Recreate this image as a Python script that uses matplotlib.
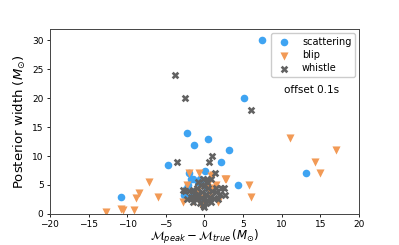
import numpy as np
import matplotlib.pyplot as plt

# scattering glitches
scat_dm = [7.5, 5.1, 0.5, 3.2, 2.2, 0.05, 13.1, 4.3, -10.8, -4.75, -2.2, -1.3,
           -2.0, -1.5, -0.6, -2.1, -2.7, -1.75, -0.4, -2.4, -1.2, -0.9, -1.8, -0.5, 0.3]
scat_w = [30, 20, 13, 11, 8.9, 7.4, 7.0, 5.0, 3.0, 8.5, 14, 12,
          7.0, 6.0, 6.0, 5.0, 3.3, 6.0, 5.9, 4.3, 4.0, 5.5, 3.0, 2.5, 4.5]

# blip glitches
blip_dm = [11.1, 17.0, 14.3, 14.9, 5.8, 6.0, 2.8, 1.7, 1.45, 0.9, -12.7, -10.8,
           -10.6, -9.1, -8.8, -8.5, -7.2, -6.0, -2.0, -0.75, -2.8, -0.4, 0.7, -1.5,
           1.15, 2.7, -1.0, 0.0, 1.0, -2.3, 0.5]
blip_w = [13.1, 11.0, 9.0, 7.0, 5.0, 3.0, 6.0, 2.0, 5.0, 6.6, 0.4, 0.8,
          0.6, 0.6, 2.8, 3.6, 5.6, 3.0, 7.0, 7.0, 2.1, 1.6, 3.6, 2.2,
          6.8, 6.0, 4.0, 2.7, 4.5, 5.0, 5.2]

# whistle glitches
whis_dm = [-2.5, -2.0, -1.5, -1.0, -0.5, 0.0, 0.5, 1.0, 1.5, 2.0, 2.5, -2.2,
           -1.8, -1.2, -0.8, -0.3, 0.2, 0.7, 1.2, 1.8, -1.5, -1.0, -0.5, 0.0,
           0.4, 0.9, -0.6, -0.2, 0.2, -0.1, 0.3, -0.8, 2.2, 1.0, 0.6, 1.4,
           0.3, -0.2, 0.8, -3.5, -3.8, -2.5, 6.0, -1.5, 1.5, -2.8, 2.6]
whis_w = [4.0, 4.0, 4.2, 4.5, 5.0, 4.8, 4.5, 4.0, 3.8, 3.5, 4.4, 2.5,
          3.0, 3.2, 3.5, 3.8, 3.5, 3.0, 2.8, 2.5, 2.0, 2.5, 2.8, 2.5,
          2.2, 2.0, 1.8, 1.5, 1.8, 1.2, 5.5, 5.5, 4.4, 10.0, 9.0, 7.0,
          6.0, 6.0, 6.0, 9.0, 24, 20, 18, 2.8, 4.5, 4.2, 3.3]

fig = plt.figure(figsize=(3.99, 2.45), dpi=100)
ax = fig.add_axes([0.125, 0.127, 0.775, 0.755])

ax.scatter(scat_dm, scat_w, marker='o', s=30, color='#3fa4f2', linewidths=0,
           label='scattering')
ax.scatter(blip_dm, blip_w, marker='v', s=34, color='#f29a56', linewidths=0,
           label='blip')
ax.scatter(whis_dm, whis_w, marker='X', s=30, color='#626262', linewidths=0,
           label='whistle')

ax.text(13.8, 21.5, 'offset 0.1s', ha='center', va='center', fontsize=7.5)

ax.set_xlim(-20, 20)
ax.set_ylim(0, 32)
ax.set_xticks(np.arange(-20, 21, 5))
ax.set_yticks(np.arange(0, 31, 5))
ax.tick_params(labelsize=6.5, width=0.6, length=2.5, pad=2)
for sp in ax.spines.values():
    sp.set_linewidth(0.7)
    sp.set_color('#444444')

ax.set_xlabel(r'$\mathcal{M}_{peak} - \mathcal{M}_{true}\,(M_{\odot})$', fontsize=8.5, labelpad=-0.5)
ax.set_ylabel(r'Posterior width ($M_{\odot}$)', fontsize=9.5, labelpad=3)

ax.legend(loc='upper right', fontsize=7, frameon=True, borderpad=0.4,
          handletextpad=0.8, labelspacing=0.35, framealpha=1, edgecolor='#cccccc',
          borderaxespad=0.4)

fig.savefig('out.png', dpi=100)
